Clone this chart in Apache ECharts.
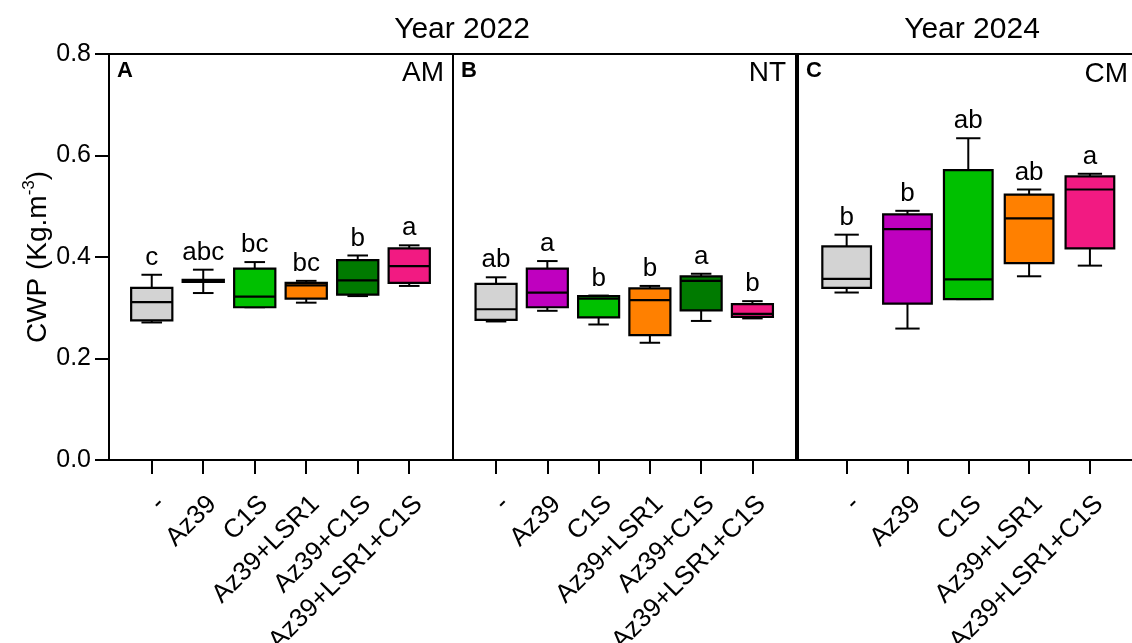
<!DOCTYPE html>
<html><head><meta charset="utf-8">
<script src="https://cdn.jsdelivr.net/npm/echarts@6/dist/echarts.min.js"></script>
<style>html,body{margin:0;padding:0;background:#fff}#c{width:1132px;height:643px}</style>
</head><body><div id="c"></div>
<script>
// ---------- data ----------
const catsAB = ['-', 'Az39', 'C1S', 'Az39+LSR1', 'Az39+C1S', 'Az39+LSR1+C1S'];
const catsC  = ['-', 'Az39', 'C1S', 'Az39+LSR1', 'Az39+LSR1+C1S'];
const yTickValues = [0, 0.2, 0.4, 0.6, 0.8];

// Panel A — Year 2022, AM
const aMin = [0.271, 0.329, 0.301, 0.310, 0.323, 0.343];
const aQ1  = [0.275, 0.351, 0.301, 0.318, 0.326, 0.349];
const aMed = [0.311, 0.353, 0.322, 0.344, 0.354, 0.382];
const aQ3  = [0.339, 0.355, 0.377, 0.349, 0.394, 0.417];
const aMax = [0.365, 0.375, 0.390, 0.353, 0.403, 0.423];
const aLetters = ['c', 'abc', 'bc', 'bc', 'b', 'a'];

// Panel B — Year 2022, NT
const bMin = [0.273, 0.294, 0.267, 0.231, 0.274, 0.279];
const bQ1  = [0.276, 0.301, 0.281, 0.246, 0.295, 0.282];
const bMed = [0.297, 0.330, 0.318, 0.315, 0.353, 0.288];
const bQ3  = [0.347, 0.377, 0.323, 0.338, 0.362, 0.307];
const bMax = [0.360, 0.392, 0.324, 0.343, 0.367, 0.313];
const bLetters = ['ab', 'a', 'b', 'b', 'a', 'b'];

// Panel C — Year 2024, CM
const cMin = [0.330, 0.259, 0.317, 0.362, 0.383];
const cQ1  = [0.339, 0.308, 0.317, 0.388, 0.417];
const cMed = [0.357, 0.455, 0.356, 0.476, 0.533];
const cQ3  = [0.421, 0.484, 0.571, 0.523, 0.559];
const cMax = [0.444, 0.491, 0.634, 0.533, 0.564];
const cLetters = ['b', 'b', 'ab', 'ab', 'a'];

// ---------- styles ----------
const colorsAB = ['#d3d3d3', '#bf00bf', '#00c000', '#ff8000', '#007a00', '#f21a82'];
const colorsC  = ['#d3d3d3', '#bf00bf', '#00c000', '#ff8000', '#f21a82'];
const FONT = '"Liberation Sans", Arial, Helvetica, sans-serif';

function rows(mn, q1, md, q3, mx) {
  return mn.map((v, i) => [i + 1, mn[i], q1[i], md[i], q3[i], mx[i]]);
}

function makeRender(letters, colors) {
  return function (params, api) {
    const x = api.value(0);
    const lo = api.coord([x, api.value(1)]);
    const q1 = api.coord([x, api.value(2)]);
    const md = api.coord([x, api.value(3)]);
    const q3 = api.coord([x, api.value(4)]);
    const hi = api.coord([x, api.value(5)]);
    const bw = api.size([0.8, 0])[0];
    const cw = api.size([0.4, 0])[0];
    const cx = md[0];
    const line = (x1, y1, x2, y2, w) => ({
      type: 'line', shape: { x1, y1, x2, y2 },
      style: { stroke: '#000', lineWidth: w || 2 }
    });
    return {
      type: 'group',
      children: [
        line(cx, q3[1], cx, hi[1]),
        line(cx, q1[1], cx, lo[1]),
        line(cx - cw / 2, hi[1], cx + cw / 2, hi[1]),
        line(cx - cw / 2, lo[1], cx + cw / 2, lo[1]),
        {
          type: 'rect',
          shape: { x: cx - bw / 2, y: q3[1], width: bw, height: q1[1] - q3[1] },
          style: { fill: colors[params.dataIndex], stroke: '#000', lineWidth: 2.2 }
        },
        line(cx - bw / 2, md[1], cx + bw / 2, md[1], 2.2),
        {
          type: 'text', x: cx, y: hi[1] - 4,
          style: {
            text: letters[params.dataIndex], font: '26px ' + FONT, fill: '#000',
            align: 'center', verticalAlign: 'bottom'
          }
        }
      ]
    };
  };
}

const gridBase = { show: true, borderColor: '#000', borderWidth: 2, backgroundColor: 'transparent',
  containLabel: false, outerBoundsMode: 'none', top: 54, height: 406 };

function xAxisFor(gi, cats, min, max) {
  const vals = cats.map((c, i) => i + 1);
  return {
    gridIndex: gi, type: 'value', min: min, max: max,
    axisLine: { show: true, onZero: false, lineStyle: { color: '#000', width: 2 } },
    axisTick: { show: true, customValues: vals, length: 14, inside: false, lineStyle: { color: '#000', width: 2 } },
    axisLabel: {
      show: true, customValues: vals, rotate: 45, margin: 31,
      align: 'right', verticalAlign: 'top',
      color: '#000', fontSize: 26, fontFamily: FONT,
      formatter: v => cats[Math.round(v) - 1]
    },
    splitLine: { show: false }
  };
}

function yAxisFor(gi, visible) {
  return {
    gridIndex: gi, type: 'value', min: 0, max: 0.8, interval: 0.2,
    show: visible,
    axisLine: { show: true, lineStyle: { color: '#000', width: 2 } },
    axisTick: { show: true, length: 14, inside: false, lineStyle: { color: '#000', width: 2 } },
    axisLabel: { show: true, margin: 18, color: '#000', fontSize: 25, fontFamily: FONT,
      formatter: v => v.toFixed(1) },
    splitLine: { show: false },
    name: visible ? '{n|CWP (Kg.m}{s|-3}{n|)}' : '',
    nameLocation: 'middle', nameRotate: 90, nameGap: 56,
    nameTextStyle: {
      color: '#000', fontFamily: FONT,
      rich: {
        n: { fontSize: 28, fontFamily: FONT, color: '#000', verticalAlign: 'bottom', lineHeight: 32 },
        s: { fontSize: 17, fontFamily: FONT, color: '#000', verticalAlign: 'top', lineHeight: 32 }
      }
    }
  };
}

function txt(text, x, y, size, align, weight) {
  return {
    type: 'text', x: x, y: y, silent: true,
    style: { text: text, font: (weight || 'normal') + ' ' + size + 'px ' + FONT, fill: '#000',
      align: align, verticalAlign: 'middle' }
  };
}

const chart = echarts.init(document.getElementById('c'), null, { renderer: 'canvas' });
chart.setOption({
  animation: false,
  backgroundColor: '#fff',
  grid: [
    Object.assign({}, gridBase, { left: 109, width: 344 }),
    Object.assign({}, gridBase, { left: 453, width: 343 }),
    Object.assign({}, gridBase, { left: 798, width: 343 })
  ],
  xAxis: [
    xAxisFor(0, catsAB, 0.17, 6.85),
    xAxisFor(1, catsAB, 0.16, 6.85),
    xAxisFor(2, catsC, 0.2, 5.84)
  ],
  yAxis: [yAxisFor(0, true), yAxisFor(1, false), yAxisFor(2, false)],
  series: [
    { type: 'custom', xAxisIndex: 0, yAxisIndex: 0, clip: false,
      data: rows(aMin, aQ1, aMed, aQ3, aMax), renderItem: makeRender(aLetters, colorsAB) },
    { type: 'custom', xAxisIndex: 1, yAxisIndex: 1, clip: false,
      data: rows(bMin, bQ1, bMed, bQ3, bMax), renderItem: makeRender(bLetters, colorsAB) },
    { type: 'custom', xAxisIndex: 2, yAxisIndex: 2, clip: false,
      data: rows(cMin, cQ1, cMed, cQ3, cMax), renderItem: makeRender(cLetters, colorsC) }
  ],
  graphic: [
    txt('Year 2022', 462, 30, 30, 'center'),
    txt('Year 2024', 972, 30, 30, 'center'),
    txt('A', 117, 71, 22, 'left', 'bold'),
    txt('AM', 444, 73, 28, 'right'),
    txt('B', 461, 71, 22, 'left', 'bold'),
    txt('NT', 786, 73, 28, 'right'),
    txt('C', 806, 71, 22, 'left', 'bold'),
    txt('CM', 1128, 74, 28, 'right')
  ]
});
</script>
</body></html>
